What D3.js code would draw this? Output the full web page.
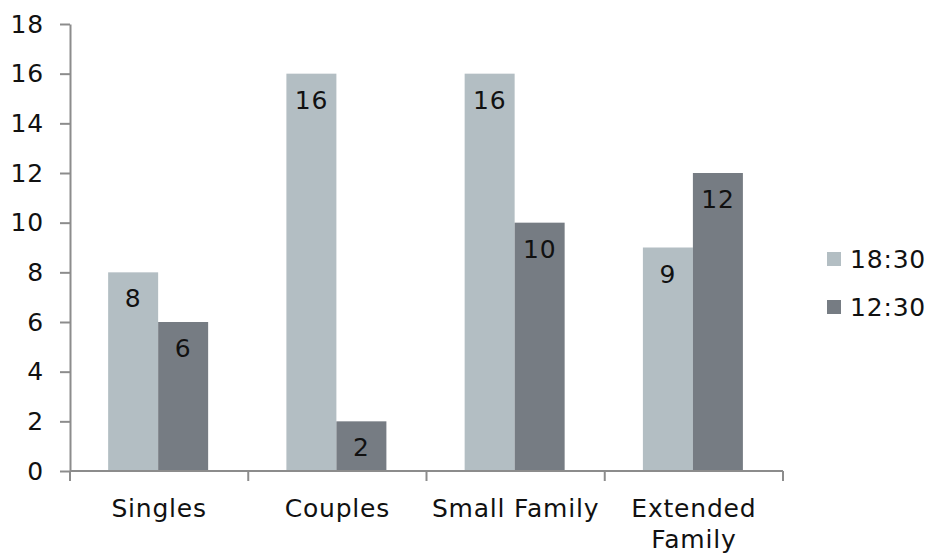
<!DOCTYPE html>
<html>
<head>
<meta charset="utf-8">
<script src="https://cdn.jsdelivr.net/npm/d3@7"></script>
<style>
  html, body { margin: 0; padding: 0; background: #fff; }
  svg { display: block; }
  text { font-family: "DejaVu Sans", Verdana, sans-serif; fill: #111; letter-spacing: 0.8px; }
</style>
</head>
<body>
<svg id="chart" width="929" height="553"></svg>
<script>
// Household types and counts per time slot
const categories = ["Singles", "Couples", "Small Family", "Extended Family"];
const seriesNames = ["18:30", "12:30"];
const evening = [8, 16, 16, 9];   // 18:30
const midday  = [6, 2, 10, 12];   // 12:30
const yTicks = [0, 2, 4, 6, 8, 10, 12, 14, 16, 18];
const colors = ["#b3bec3", "#767c83"];

const series = [evening, midday];
const svg = d3.select("#chart");

const plotLeft = 70, plotRight = 783, plotTop = 24, plotBottom = 471;
const fontSize = "25px";

const x0 = d3.scaleBand().domain(categories).range([plotLeft, plotRight]).padding(0);
const x1 = d3.scaleBand().domain(seriesNames)
  .range([x0.bandwidth() * 0.214, x0.bandwidth() * 0.775]).padding(0);
const y = d3.scaleLinear().domain([0, 18]).range([plotBottom, plotTop]);

const axisColor = "#8c8c8c";

// Bars
const groups = svg.append("g").selectAll("g")
  .data(categories)
  .join("g")
  .attr("transform", d => `translate(${x0(d)},0)`);

groups.selectAll("rect")
  .data((c, i) => seriesNames.map((s, k) => ({ s, k, v: series[k][i] })))
  .join("rect")
  .attr("x", d => x1(d.s))
  .attr("width", x1.bandwidth())
  .attr("y", d => y(d.v))
  .attr("height", d => y(0) - y(d.v))
  .attr("fill", d => colors[d.k]);

// Value labels inside the top of each bar
groups.selectAll("text.val")
  .data((c, i) => seriesNames.map((s, k) => ({ s, k, v: series[k][i] })))
  .join("text")
  .attr("class", "val")
  .attr("x", d => x1(d.s) + x1.bandwidth() / 2)
  .attr("y", d => y(d.v) + 35)
  .attr("text-anchor", "middle")
  .style("font-size", fontSize)
  .text(d => d.v);

// Y axis
const yAxis = svg.append("g")
  .attr("transform", `translate(${plotLeft},0)`)
  .call(d3.axisLeft(y).tickValues(yTicks).tickSize(10).tickPadding(16).tickSizeOuter(0));
yAxis.select(".domain").attr("stroke", axisColor).attr("stroke-width", 2);
yAxis.selectAll(".tick line").attr("stroke", axisColor).attr("stroke-width", 2);
yAxis.selectAll(".tick text").style("font-size", fontSize).attr("fill", "#111");

// X axis: baseline with ticks at category boundaries
const xg = svg.append("g");
xg.append("line")
  .attr("x1", plotLeft).attr("x2", plotRight)
  .attr("y1", y(0)).attr("y2", y(0))
  .attr("stroke", axisColor).attr("stroke-width", 2);
const bounds = categories.map(c => x0(c)).concat([x0.range()[1]]);
xg.selectAll("line.tick")
  .data(bounds)
  .join("line")
  .attr("class", "tick")
  .attr("x1", d => d).attr("x2", d => d)
  .attr("y1", y(0)).attr("y2", y(0) + 10)
  .attr("stroke", axisColor).attr("stroke-width", 2);

// Category labels (wrapped where the band is too narrow)
const labelLines = {
  "Singles": ["Singles"],
  "Couples": ["Couples"],
  "Small Family": ["Small Family"],
  "Extended Family": ["Extended", "Family"]
};
const catText = xg.selectAll("text.cat")
  .data(categories)
  .join("text")
  .attr("class", "cat")
  .attr("text-anchor", "middle")
  .style("font-size", fontSize)
  .attr("x", d => x0(d) + x0.bandwidth() / 2)
  .attr("y", 517);
catText.selectAll("tspan")
  .data(d => labelLines[d].map(t => ({ t, cx: x0(d) + x0.bandwidth() / 2 })))
  .join("tspan")
  .attr("x", d => d.cx)
  .attr("dy", (d, i) => i === 0 ? 0 : 31)
  .text(d => d.t);

// Legend
const legend = svg.append("g").attr("transform", "translate(827,252)");
const items = legend.selectAll("g")
  .data(seriesNames)
  .join("g")
  .attr("transform", (d, i) => `translate(0,${i * 48})`);
items.append("rect")
  .attr("width", 14).attr("height", 14)
  .attr("fill", (d, i) => colors[i]);
items.append("text")
  .attr("x", 23).attr("y", 16)
  .style("font-size", fontSize)
  .text(d => d);
</script>
</body>
</html>
